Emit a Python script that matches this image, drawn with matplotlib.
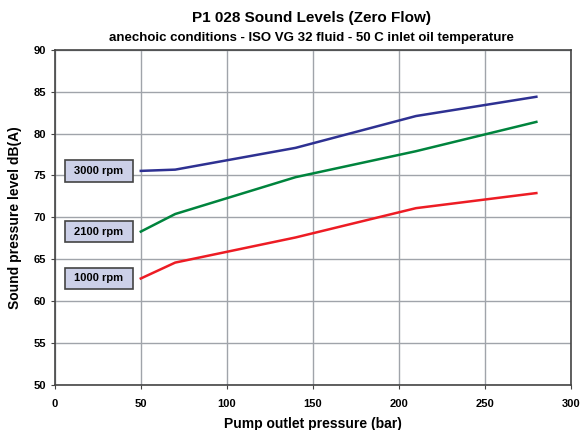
import matplotlib
matplotlib.use("Agg")
import matplotlib.pyplot as plt
from matplotlib.patches import Rectangle

plt.rcParams['font.family'] = ['Liberation Sans', 'DejaVu Sans']
plt.rcParams['font.weight'] = 'bold'

# Pump outlet pressure (bar)
pressure = [50, 70, 140, 210, 280]

# Sound pressure level dB(A)
spl_3000 = [75.55, 75.7, 78.3, 82.1, 84.4]
spl_2100 = [68.3, 70.4, 74.8, 77.9, 81.4]
spl_1000 = [62.7, 64.6, 67.6, 71.1, 72.9]

labels = ["3000 rpm", "2100 rpm", "1000 rpm"]
colors = ["#2e3192", "#00843d", "#ed1c24"]

fig = plt.figure(figsize=(5.83, 4.30), dpi=100)
ax = fig.add_axes([0.094, 0.105, 0.885, 0.779])

for label, vals, color in zip(labels, [spl_3000, spl_2100, spl_1000], colors):
    ax.plot(pressure, vals, color=color, linewidth=1.8)
    # label box sits left of the first point
    ax.add_patch(Rectangle((5.8, vals[0] - 1.3), 39.5, 2.6, facecolor='#ccd0e8',
                           edgecolor='#444444', linewidth=1.2, zorder=3))
    ax.text(25.5, vals[0], label, ha='center', va='center', fontsize=8,
            fontweight='bold', zorder=4)

ax.set_xlim(0, 300)
ax.set_ylim(50, 90)
ax.set_xticks(range(0, 301, 50))
ax.set_yticks(range(50, 91, 5))
ax.grid(True, color='#a0a4aa', linewidth=1)
ax.tick_params(labelsize=8, length=3, color='#444444')
ax.tick_params(axis='x', pad=7)
for lab in ax.get_xticklabels() + ax.get_yticklabels():
    lab.set_fontweight('bold')
for s in ax.spines.values():
    s.set_color('#444444')
    s.set_linewidth(1.2)
ax.set_axisbelow(True)

ax.set_xlabel('Pump outlet pressure (bar)', fontsize=10, fontweight='bold', labelpad=6)
ax.set_ylabel('Sound pressure level dB(A)', fontsize=10, fontweight='bold', labelpad=8)

fig.text(0.535, 0.958, 'P1 028 Sound Levels (Zero Flow)', ha='center', va='center',
         fontsize=11, fontweight='bold')
fig.text(0.535, 0.911, 'anechoic conditions - ISO VG 32 fluid - 50 C inlet oil temperature',
         ha='center', va='center', fontsize=9.5, fontweight='bold')

fig.savefig('out.png', dpi=100)
